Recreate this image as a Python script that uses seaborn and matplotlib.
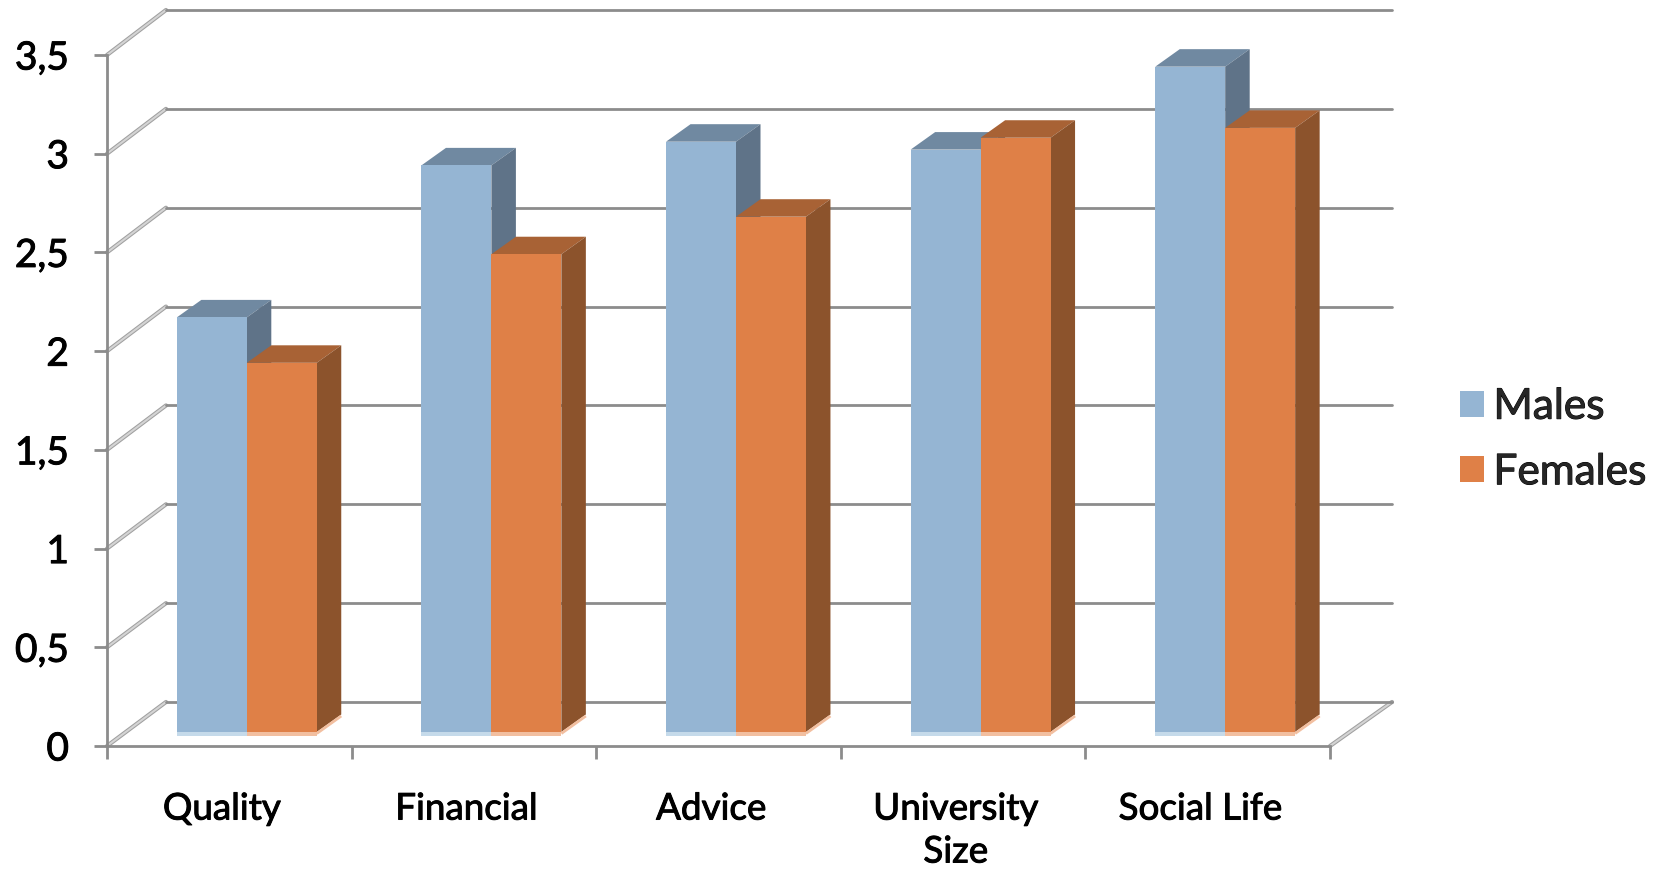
import numpy as np
import pandas as pd
import matplotlib
matplotlib.use("Agg")
import matplotlib.pyplot as plt
import matplotlib.patheffects as pe
from matplotlib.patches import ConnectionPatch, Polygon, Rectangle
import seaborn as sns

categories = ["Quality", "Financial", "Advice", "University\nSize", "Social Life"]
males = [2.10, 2.87, 2.99, 2.95, 3.37]
females = [1.87, 2.42, 2.61, 3.01, 3.06]
y_ticks = [0, 0.5, 1, 1.5, 2, 2.5, 3, 3.5]
y_tick_labels = ["0", "0,5", "1", "1,5", "2", "2,5", "3", "3,5"]
series_names = ["Males", "Females"]

W, H = 1666, 869
GRID = "#8C8C8C"
FRONT = {"Males": "#95B5D3", "Females": "#DF8047"}
TOP = {"Males": "#7089A1", "Females": "#A86235"}
SIDE = {"Males": "#5F7388", "Females": "#8C532C"}
BASE = {"Males": "#C5DAEA", "Females": "#F2BFA0"}

sns.set_theme(style="white")
plt.rcParams["font.family"] = ["Lato", "DejaVu Sans"]

fig = plt.figure(figsize=(W / 100, H / 100), dpi=100, facecolor="white")
heavy = [pe.withStroke(linewidth=0.7, foreground="black")]


def box(left, right, bottom, top):
    return [left / W, 1 - bottom / H, (right - left) / W, (bottom - top) / H]


back = fig.add_axes(box(166, 1392, 702, 10), zorder=1)
front = fig.add_axes(box(107, 1330, 746, 55), zorder=2)
bars = fig.add_axes(box(124.5, 1347.5, 732, 41), zorder=3)

# back wall
back.set_xlim(0, 5)
back.set_ylim(0, 3.5)
back.set_yticks(y_ticks)
back.set_xticks([])
back.tick_params(left=False, labelleft=False)
back.grid(axis="y", color=GRID, lw=2.0, clip_on=False)
for ln in back.get_ygridlines():
    ln.set_clip_on(False)
sns.despine(ax=back, left=True, bottom=True)

# front axes with ticks and labels
front.patch.set_alpha(0)
front.set_xlim(0, 5)
front.set_ylim(0, 3.5)
front.set_yticks(y_ticks, labels=y_tick_labels)
front.set_xticks(range(6), labels=[""] * 6)
front.set_xticks(np.arange(5) + 0.47, labels=categories, minor=True)
front.tick_params(axis="both", which="major", length=9.4, width=2.0, color=GRID,
                  left=True, bottom=True)
front.tick_params(axis="y", labelsize=28, pad=18, labelcolor="black")
front.tick_params(axis="x", which="minor", length=0, labelsize=26.5, pad=33.5,
                  labelcolor="black")
for lab in front.get_xticklabels(minor=True):
    lab.set_linespacing(1.37)
    lab.set_path_effects(heavy)
for lab in front.get_yticklabels():
    lab.set_path_effects(heavy)
sns.despine(ax=front)
for s in ("left", "bottom"):
    front.spines[s].set_color(GRID)
    front.spines[s].set_linewidth(2.0)

# floor / wall diagonals
diagonals = [(0, v) for v in y_ticks] + [(5, 0)]
for x0, v in diagonals:
    for col, lw in (("#A0A0A0", 3.0), ("#D4D4D4", 1.5)):
        con = ConnectionPatch((x0, v), (x0, v), coordsA=front.transData,
                              coordsB=back.transData, color=col, lw=lw,
                              arrowstyle="-", shrinkA=0, shrinkB=0, zorder=0.5)
        back.add_artist(con)

# bars
df = pd.DataFrame({
    "category": categories * 2,
    "value": males + females,
    "series": [series_names[0]] * len(males) + [series_names[1]] * len(females),
})
sns.barplot(data=df, x="category", y="value", hue="series", hue_order=series_names,
            palette=FRONT, saturation=1, width=0.572, gap=0, ax=bars, linewidth=0,
            legend=True)
bars.set_xlim(-0.5, 4.5)
bars.set_ylim(0, 3.5)
bars.patch.set_alpha(0)
bars.axis("off")

px_x = (5) / (1347.5 - 124.5)
px_y = 3.5 / (732 - 41)
dx, dy = 24.5 * px_x, 17.5 * px_y

for z, (name, container) in enumerate(zip(series_names, bars.containers)):
    for p in container.patches:
        x, w, h = p.get_x(), p.get_width(), p.get_height()
        p.set_zorder(3 + z * 2 + 0.5)
        bars.add_patch(Polygon([(x, h), (x + w, h), (x + w + dx, h + dy), (x + dx, h + dy)],
                               closed=True, fc=TOP[name], ec="none", zorder=3 + z * 2))
        bars.add_patch(Polygon([(x + w, 0), (x + w + dx, dy), (x + w + dx, h + dy), (x + w, h)],
                               closed=True, fc=SIDE[name], ec="none", zorder=3 + z * 2 + 0.2))
        bars.add_patch(Rectangle((x, -3.5 * px_y), w, 3.5 * px_y, fc=BASE[name], ec="none",
                                 zorder=3 + z * 2 + 0.6, clip_on=False))
        bars.plot([x + w, x + w + dx], [-1.5 * px_y, dy - 1.5 * px_y], color=BASE[name], lw=2,
                  solid_capstyle="butt", zorder=3 + z * 2 + 0.3, clip_on=False)

handles, labels = bars.get_legend_handles_labels()
if bars.get_legend():
    bars.get_legend().remove()
leg = fig.legend(handles, labels, loc="center left", bbox_to_anchor=(1460 / W, 1 - 439.5 / H),
                 frameon=False, fontsize=30.5, handlelength=0.57, handleheight=0.57,
                 handletextpad=0.22, labelspacing=0.65, borderpad=0, borderaxespad=0)
for t in leg.get_texts():
    t.set_path_effects(heavy)

fig.savefig("out.png", dpi=100)
